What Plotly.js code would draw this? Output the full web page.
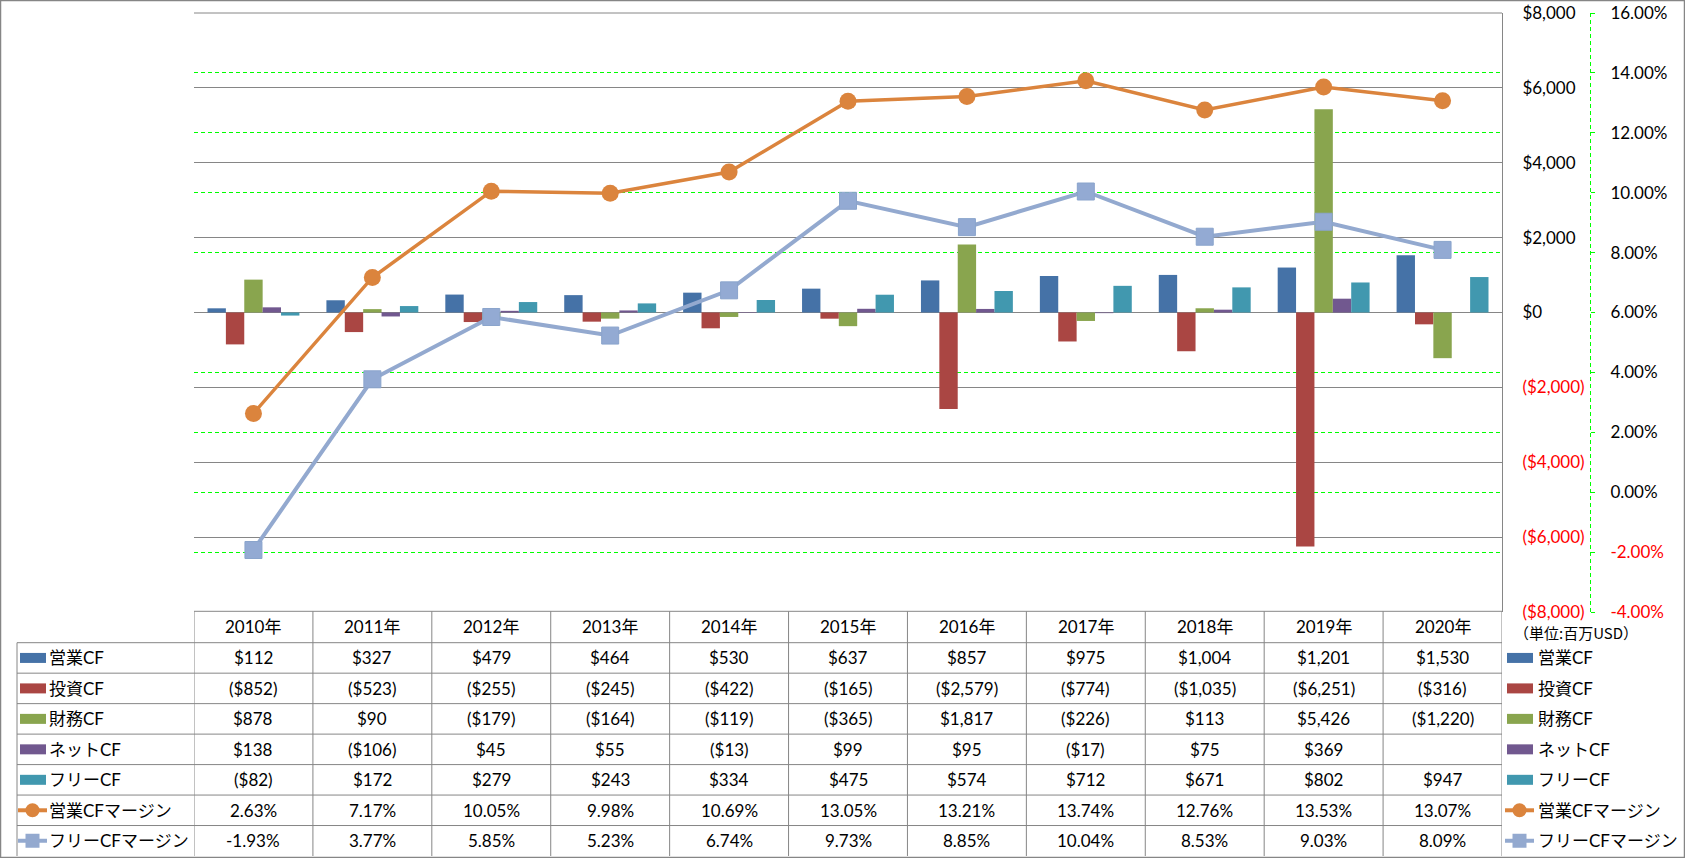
<!DOCTYPE html>
<html><head><meta charset="utf-8">
<script src="https://cdn.plot.ly/plotly-3.0.1.min.js"></script>
<style>html,body{margin:0;padding:0;background:#fff;} #chart{width:1685px;height:858px;}</style>
</head><body><div id="chart"></div>
<script>
// ---- data ----
const years = ['2010年','2011年','2012年','2013年','2014年','2015年','2016年','2017年','2018年','2019年','2020年'];
const opCF   = [112, 327, 479, 464, 530, 637, 857, 975, 1004, 1201, 1530];
const invCF  = [-852, -523, -255, -245, -422, -165, -2579, -774, -1035, -6251, -316];
const finCF  = [878, 90, -179, -164, -119, -365, 1817, -226, 113, 5426, -1220];
const netCF  = [138, -106, 45, 55, -13, 99, 95, -17, 75, 369, null];
const freeCF = [-82, 172, 279, 243, 334, 475, 574, 712, 671, 802, 947];
const opMargin   = [2.63, 7.17, 10.05, 9.98, 10.69, 13.05, 13.21, 13.74, 12.76, 13.53, 13.07];
const freeMargin = [-1.93, 3.77, 5.85, 5.23, 6.74, 9.73, 8.85, 10.04, 8.53, 9.03, 8.09];
const usdTicks = [-8000, -6000, -4000, -2000, 0, 2000, 4000, 6000, 8000];
const pctTicks = [-4, -2, 0, 2, 4, 6, 8, 10, 12, 14, 16];
const unitLabel = '（単位:百万USD）';
const seriesNames = ['営業CF','投資CF','財務CF','ネットCF','フリーCF','営業CFマージン','フリーCFマージン'];

// ---- styles ----
const FONT = 'Lato, "Noto Sans CJK JP", sans-serif';
const colors = ['#4572A7','#AA4643','#89A54E','#71588F','#4198AF','#DB843D','#8FA9D1'];
const GRID = '#868686';
const GREEN = '#00FF00';
const W = 1685, H = 858;
const L = 194, R = 1502, T = 13, B = 612;
const px2x = p => (p - L) / (R - L);
const px2y = p => (B - p) / (B - T);

const fmtUSD = v => {
  if (v === null || v === undefined) return '';
  const s = '$' + Math.abs(v).toLocaleString('en-US');
  return v < 0 ? '(' + s + ')' : s;
};
const fmtPct = v => v.toFixed(2) + '%';
const red = s => '<span style="color:#FF0000">' + s + '</span>';

const idx = years.map((_, i) => i);
const barData = [opCF, invCF, finCF, netCF, freeCF];
const traces = barData.map((d, k) => ({
  type: 'bar', x: idx, y: d, name: seriesNames[k],
  marker: {color: colors[k], line: {width: 0}}, yaxis: 'y', showlegend: false, hoverinfo: 'skip'
}));
traces.push({
  type: 'scatter', mode: 'lines+markers', x: idx, y: opMargin, yaxis: 'y2', name: seriesNames[5],
  line: {color: colors[5], width: 3.5}, marker: {symbol: 'circle', size: 17, color: colors[5]},
  showlegend: false, hoverinfo: 'skip'
});
traces.push({
  type: 'scatter', mode: 'lines+markers', x: idx, y: freeMargin, yaxis: 'y2', name: seriesNames[6],
  line: {color: '#93A9CF', width: 4}, marker: {symbol: 'square', size: 17, color: '#93AAD3', line: {color: '#8AA4CC', width: 1}},
  showlegend: false, hoverinfo: 'skip'
});

// ---- table geometry ----
const tblTop = 611.3, hdrBot = 642.7, rowH = 30.47, tblBot = 856;
const shapes = [];
const ann = [];
const gl = {color: GRID, width: 1};
shapes.push({type:'line', xref:'x', yref:'paper', x0:-0.5, x1:10.5, y0:px2y(tblTop), y1:px2y(tblTop), line:gl, layer:'above'});
for (let r = 0; r < 7; r++) {
  const yy = hdrBot + r * rowH;
  shapes.push({type:'line', xref:'paper', yref:'paper', x0:px2x(17), x1:1, y0:px2y(yy), y1:px2y(yy), line:gl, layer:'above'});
}
for (let i = 0; i <= years.length; i++) {
  shapes.push({type:'line', xref:'x', yref:'paper', x0:i-0.5, x1:i-0.5, y0:px2y(tblTop), y1:px2y(tblBot), line:gl, layer:'above'});
}
shapes.push({type:'line', xref:'paper', yref:'paper', x0:px2x(17), x1:px2x(17), y0:px2y(hdrBot), y1:px2y(tblBot), line:gl, layer:'above'});
shapes.push({type:'line', xref:'paper', yref:'paper', x0:0, x1:1, y0:1, y1:1, line:gl, layer:'above'});
shapes.push({type:'line', xref:'paper', yref:'paper', x0:px2x(1590.5), x1:px2x(1590.5), y0:0, y1:1, line:{color:GREEN, width:1, dash:'4px,3px'}, layer:'above'});
shapes.push({type:'rect', xref:'paper', yref:'paper', x0:px2x(0.5), x1:px2x(1684.5), y0:px2y(0.5), y1:px2y(857.5), line:{color:GRID, width:1.5}, layer:'above'});

years.forEach((yname, i) => {
  ann.push({xref:'x', yref:'paper', x:i, y:px2y((tblTop + hdrBot) / 2), text: yname, showarrow:false, xanchor:'center', yanchor:'middle', font:{family:FONT, size:17, color:'#000'}});
});
const rowVals = [opCF, invCF, finCF, netCF, freeCF, opMargin, freeMargin];
rowVals.forEach((vals, r) => {
  const cy = hdrBot + (r + 0.5) * rowH;
  const fmt = r < 5 ? fmtUSD : fmtPct;
  vals.forEach((v, i) => {
    ann.push({xref:'x', yref:'paper', x:i, y:px2y(cy), text: fmt(v), showarrow:false, xanchor:'center', yanchor:'middle', font:{family:FONT, size:17, color:'#000'}});
  });
  [[20, 47], [1507, 1536]].forEach(([k0, tx]) => {
    if (r < 5) {
      shapes.push({type:'rect', xref:'paper', yref:'paper', x0:px2x(k0), x1:px2x(k0 + 26), y0:px2y(cy - 5), y1:px2y(cy + 5), fillcolor: colors[r], line:{width:0}, layer:'above'});
    } else {
      const c = r === 5 ? colors[5] : '#93A9CF';
      shapes.push({type:'line', xref:'paper', yref:'paper', x0:px2x(k0 - 2), x1:px2x(k0 + 27), y0:px2y(cy), y1:px2y(cy), line:{color:c, width:4}, layer:'above'});
      const cx = k0 + 12.5, rr = 7;
      shapes.push({type: r === 5 ? 'circle' : 'rect', xref:'paper', yref:'paper', x0:px2x(cx - rr), x1:px2x(cx + rr), y0:px2y(cy - rr), y1:px2y(cy + rr), fillcolor:c, line:{width:0}, layer:'above'});
    }
    ann.push({xref:'paper', yref:'paper', x:px2x(tx), y:px2y(cy), text: seriesNames[r], showarrow:false, xanchor:'left', yanchor:'middle', font:{family:FONT, size:17, color:'#000'}});
  });
});
ann.push({xref:'paper', yref:'paper', x:px2x(1512), y:px2y(632), text: unitLabel, showarrow:false, xanchor:'left', yanchor:'middle', font:{family:'"Noto Sans CJK JP", sans-serif', size:15, color:'#000'}});

const layout = {
  width: W, height: H,
  margin: {l: L, r: W - R, t: T, b: H - B, pad: 0},
  paper_bgcolor: '#fff', plot_bgcolor: 'rgba(0,0,0,0)',
  font: {family: FONT, size: 17, color: '#000'},
  barmode: 'group', bargap: 0.227, bargroupgap: 0,
  showlegend: false,
  xaxis: {type: 'linear', range: [-0.5, 10.5], showticklabels: false, showgrid: false, zeroline: false, ticks: '', showline: false},
  yaxis: {
    range: [-8000, 8000], side: 'right', anchor: 'x',
    tickmode: 'array', tickvals: usdTicks,
    ticktext: usdTicks.map(v => v < 0 ? red(fmtUSD(v)) : fmtUSD(v)),
    showgrid: true, gridcolor: GRID, gridwidth: 1,
    zeroline: true, zerolinecolor: GRID, zerolinewidth: 1,
    showline: true, linecolor: GRID, linewidth: 1, ticks: '',
    ticklabelstandoff: 16, tickfont: {family: FONT, size: 17, color: '#000'}
  },
  yaxis2: {
    range: [-4, 16], overlaying: 'y', side: 'right', anchor: 'free', position: 1, shift: 88,
    tickmode: 'array', tickvals: pctTicks,
    ticktext: pctTicks.map(v => v < 0 ? red(fmtPct(v)) : fmtPct(v)),
    showgrid: true, gridcolor: GREEN, gridwidth: 1, griddash: '4px,3px', zeroline: false,
    showline: false, ticks: 'outside', ticklen: 4, tickcolor: GREEN, tickwidth: 1,
    ticklabelstandoff: 12, tickfont: {family: FONT, size: 17, color: '#000'}
  },
  shapes: shapes,
  annotations: ann
};
Plotly.newPlot('chart', traces, layout, {staticPlot: true, displayModeBar: false});
</script>
</body></html>
